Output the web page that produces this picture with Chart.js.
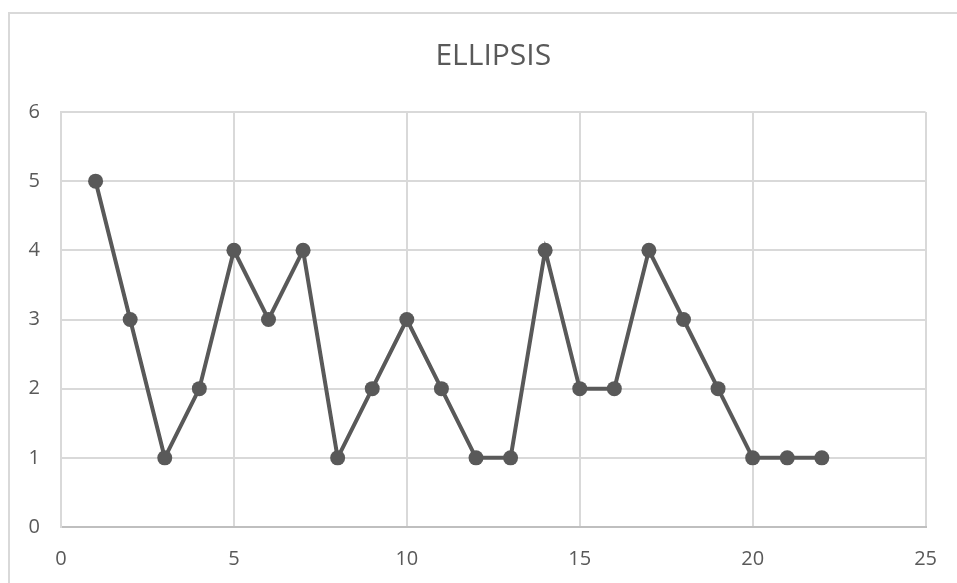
<!DOCTYPE html>
<html>
<head>
<meta charset="utf-8">
<script src="https://cdn.jsdelivr.net/npm/chart.js@4/dist/chart.umd.min.js"></script>
<style>
    body { margin: 0; background: #fff; overflow: hidden; }
    .frame { position: absolute; left: 8px; top: 12px; width: 1000px; height: 1000px; border: 2px solid #d9d9d9; }
    .wrap { position: absolute; left: 0; top: 0; width: 957px; height: 583px; }
</style>
</head>
<body>
<div class="frame"></div>
<div class="wrap"><canvas id="chart" width="957" height="583"></canvas></div>
<script>
// du lieu cua bieu do
let xValues = [1, 2, 3, 4, 5, 6, 7, 8, 9, 10, 11, 12, 13, 14, 15, 16, 17, 18, 19, 20, 21, 22];
let yValues = [5, 3, 1, 2, 4, 3, 4, 1, 2, 3, 2, 1, 1, 4, 2, 2, 4, 3, 2, 1, 1, 1];
let chartTitle = "ELLIPSIS";
let xMin = 0, xMax = 25, xStep = 5;
let yMin = 0, yMax = 6, yStep = 1;

let textColor = "#595959";
let lineColor = "#595959";
let gridColor = "#d9d9d9";

// ghep x va y thanh cac diem
let points = xValues.map((x, i) => ({ x: x, y: yValues[i] }));

let datas = {
    datasets: [
        {
            label: chartTitle,
            data: points,
            showLine: true,
            borderColor: lineColor,
            backgroundColor: lineColor,
            borderWidth: 4,
            pointRadius: 7.5,
            pointHoverRadius: 7.5,
            pointBorderWidth: 0,
            tension: 0
        }
    ]
};

let config = {
    type: 'scatter',
    data: datas,
    options: {
        responsive: false,
        animation: false,
        layout: { padding: { left: 0, right: 29, top: 0, bottom: 0 } },
        plugins: {
            legend: { display: false },
            tooltip: { enabled: false },
            title: {
                display: true,
                fullSize: false,
                text: chartTitle,
                color: textColor,
                font: { family: "'Open Sans', sans-serif", size: 30, weight: 'normal', lineHeight: 1.2 },
                padding: { top: 38, bottom: 38 }
            }
        },
        scales: {
            x: {
                type: 'linear',
                min: xMin,
                max: xMax,
                afterFit: function(scale) { scale.height = 56; },
                ticks: {
                    stepSize: xStep,
                    padding: 20,
                    color: textColor,
                    font: { family: "'Open Sans', sans-serif", size: 20 }
                },
                grid: { color: gridColor, lineWidth: 2, drawTicks: false },
                border: { color: "#bfbfbf", width: 2 }
            },
            y: {
                type: 'linear',
                min: yMin,
                max: yMax,
                afterFit: function(scale) { scale.width = 61; },
                ticks: {
                    stepSize: yStep,
                    padding: 21,
                    color: textColor,
                    font: { family: "'Open Sans', sans-serif", size: 20 }
                },
                grid: { color: gridColor, lineWidth: 2, drawTicks: false },
                border: { color: gridColor, width: 2 }
            }
        }
    }
};

let canvas = document.getElementById('chart');
let chart = new Chart(canvas, config);
</script>
</body>
</html>
